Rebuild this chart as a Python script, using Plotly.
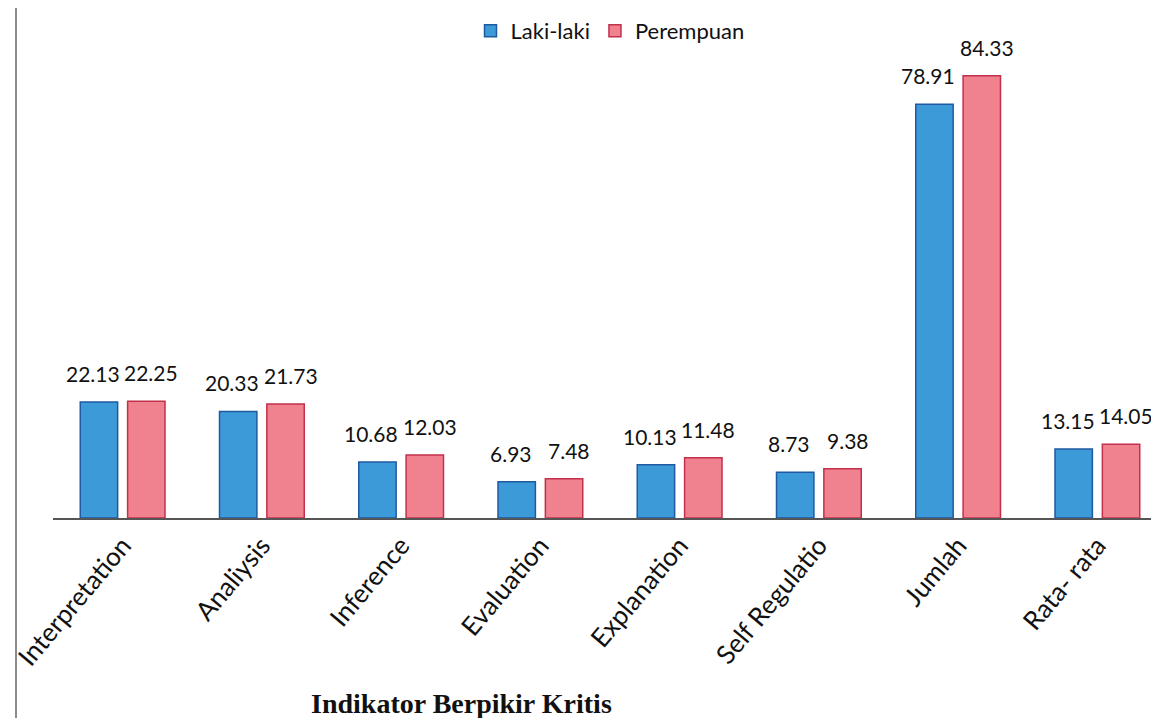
import plotly.graph_objects as go

categories = ["Interpretation", "Analiysis", "Inference", "Evaluation",
              "Explanation", "Self Regulatio", "Jumlah", "Rata- rata"]
laki = [22.13, 20.33, 10.68, 6.93, 10.13, 8.73, 78.91, 13.15]
perempuan = [22.25, 21.73, 12.03, 7.48, 11.48, 9.38, 84.33, 14.05]

font_main = "Lato, Calibri, Carlito, sans-serif"
L, R, T, B = 45, 0, 38, 208
W = 1159 - L - R
H = 718 - T - B
n = len(categories)
bargap = 0.32
step = W / n
slot = step * (1 - bargap) / 2  # pixel width of each bar slot in a group

fig = go.Figure()
fig.add_trace(go.Bar(
    name="Laki-laki", x=categories, y=laki,
    marker=dict(color="#3d9ad8", line=dict(color="#1f5aa0", width=1.5)),
))
fig.add_trace(go.Bar(
    name="Perempuan", x=categories, y=perempuan,
    marker=dict(color="#f0818f", line=dict(color="#c2304c", width=1.5)),
))

# value labels, placed above each bar (slightly spread so neighbours do not collide)
for series, sign, extra in ((laki, -1, -6), (perempuan, 1, 5)):
    for c, v in zip(categories, series):
        fig.add_annotation(
            x=c, y=v, xref="x", yref="y", text=f"{v:.2f}", showarrow=False,
            xanchor="center", yanchor="bottom", yshift=14,
            xshift=sign * slot / 2 + extra,
            font=dict(size=21, color="#111111", family=font_main),
        )

fig.update_layout(
    width=1159, height=718,
    margin=dict(l=L, r=R, t=T, b=B),
    paper_bgcolor="white", plot_bgcolor="white",
    barmode="group", bargap=bargap, bargroupgap=0.21,
    font=dict(family=font_main, color="#111111"),
    showlegend=True,
    legend=dict(orientation="h", x=(602 - L) / W, xanchor="center",
                y=1 + (T - 2) / H, yanchor="top",
                font=dict(size=22, color="#111111", family=font_main),
                traceorder="normal"),
    xaxis=dict(showline=True, linecolor="#555555", linewidth=2, automargin=False,
               tickangle=-50, tickfont=dict(size=26, color="#111111", family=font_main),
               ticks="", showgrid=False),
    yaxis=dict(visible=False, range=[0, 90], showgrid=False, automargin=False),
)

fig.add_annotation(
    text="<b>Indikator Berpikir Kritis</b>", xref="paper", yref="paper",
    x=(453 - L) / W, y=-(695 - (718 - B)) / H, showarrow=False,
    xanchor="center", yanchor="middle",
    font=dict(size=28, family="Liberation Serif, Times New Roman, serif", color="#111111"),
)
fig.add_shape(type="line", xref="paper", yref="paper",
              x0=(8 - L) / W, x1=(8 - L) / W, y0=-(718 - (718 - B)) / H, y1=1 + T / H,
              line=dict(color="#666666", width=1.5))

fig.write_html("out.html")
